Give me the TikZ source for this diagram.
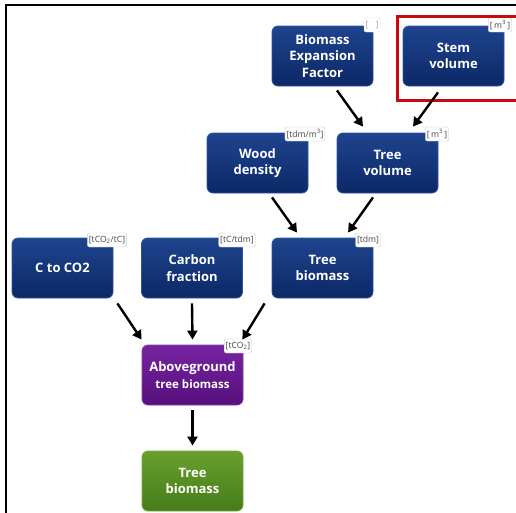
\documentclass[tikz,border=0pt]{standalone}
\usepackage{fontspec}
\setsansfont{Open Sans}
\usetikzlibrary{arrows.meta,calc}
\definecolor{bluetop}{RGB}{30,68,142}
\definecolor{bluebot}{RGB}{12,40,102}
\definecolor{blueedge}{RGB}{45,85,160}
\definecolor{purtop}{RGB}{118,36,160}
\definecolor{purbot}{RGB}{86,16,124}
\definecolor{puredge}{RGB}{130,60,170}
\definecolor{grntop}{RGB}{104,160,46}
\definecolor{grnbot}{RGB}{70,124,24}
\definecolor{grnedge}{RGB}{120,170,70}
\definecolor{redframe}{RGB}{200,10,16}
\definecolor{tagtext}{RGB}{70,70,70}
\tikzset{
  box/.style={rounded corners=6pt, minimum width=101pt, minimum height=60pt,
    align=center, text=white, inner sep=2pt,
    font=\sffamily\bfseries\fontsize{13}{16.5}\selectfont},
  bluebox/.style={box, top color=bluetop, bottom color=bluebot, draw=blueedge, line width=0.8pt},
  purplebox/.style={box, top color=purtop, bottom color=purbot, draw=puredge, line width=0.8pt},
  greenbox/.style={box, top color=grntop, bottom color=grnbot, draw=grnedge, line width=0.8pt},
  tag/.style={draw=gray!45, fill=white, rounded corners=2pt, inner xsep=1.5pt, inner ysep=1.2pt,
    text=tagtext, font=\sffamily\fontsize{8.6}{9.5}\selectfont, minimum height=14pt},
  arr/.style={line width=2.4pt, -{Triangle[length=9pt,width=10pt]}}
}
\begin{document}
\begin{tikzpicture}[x=1pt,y=-1pt]
\useasboundingbox (0,0) rectangle (516,512);
\clip (0,0) rectangle (516,512);
% frame
\draw[line width=2pt] (6,520) -- (6,5) -- (520,5);
% boxes
\node[bluebox] (bef) at (322.5,56) {Biomass\\Expansion\\Factor};
\node[bluebox] (stem) at (453.5,56) {Stem\\volume};
\node[bluebox] (wood) at (257.5,163) {Wood\\density};
\node[bluebox] (tvol) at (387.5,163) {Tree\\volume};
\node[bluebox] (cco2) at (62.5,268) {C to CO2};
\node[bluebox] (cfrac) at (192,268) {Carbon\\fraction};
\node[bluebox] (tbio) at (322.5,268) {Tree\\biomass};
\node[purplebox] (agb) at (192.5,375) {Aboveground\\{\fontsize{11.5}{14}\selectfont tree biomass}};
\node[greenbox] (tree) at (192.5,481) {Tree\\biomass};
% tags
\node[tag, draw=gray!25, text=gray!70] (tbef) at (372,25) {[\,\ \ \,]};
\node[tag] (tstem) at (500,25) {[\,m\textsuperscript{3}\,]};
\node[tag] (twood) at (305,134) {[tdm/m\textsuperscript{3}]};
\node[tag] (ttvol) at (437,134) {[\,m\textsuperscript{3}\,]};
\node[tag] (tcco2) at (107,240) {[tCO\textsubscript{2}/tC]};
\node[tag] (tcfrac) at (237,240) {[tC/tdm]};
\node[tag] (ttbio) at (368,240) {[tdm]};
\node[tag] (tagb) at (238,346) {[tCO\textsubscript{2}]};
% highlight
\draw[redframe, line width=3pt] (397.5,16.5) rectangle (522,100.5);
% arrows
\draw[arr] ($(bef.south)+(14.5,4)$) -- ($(tvol.north)+(-24.5,-6)$);
\draw[arr] ($(stem.south)+(-15.5,6)$) -- ($(tvol.north)+(25.5,-6)$);
\draw[arr] ($(wood.south)+(14.5,4)$) -- ($(tbio.north)+(-25.5,-5)$);
\draw[arr] ($(tvol.south)+(-14.5,4)$) -- ($(tbio.north)+(25.5,-5)$);
\draw[arr] ($(cco2.south east)+(4,5)$) -- ($(agb.north west)+(0,-5)$);
\draw[arr] ($(cfrac.south)+(0,5)$) -- ($(agb.north)+(0,-5)$);
\draw[arr] ($(tbio.south west)+(-7,5)$) -- ($(agb.north east)+(-1,-5)$);
\draw[arr] ($(agb.south)+(0,5)$) -- ($(tree.north)+(0,-5)$);
\end{tikzpicture}
\end{document}
